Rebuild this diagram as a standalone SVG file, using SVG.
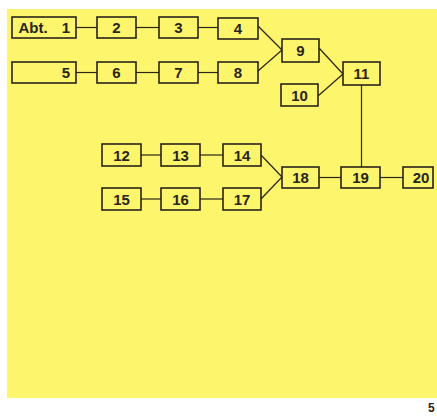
<svg xmlns="http://www.w3.org/2000/svg" width="437" height="417" viewBox="0 0 437 417">
<style>
.n rect{fill:none;stroke:#2a2419;stroke-width:1.6}
.n text{font-family:"Liberation Sans",Arial,sans-serif;font-weight:bold;font-size:15px;fill:#2a2419;text-anchor:middle}
#connectors line{stroke:#2a2419;stroke-width:1.2}
</style>
<rect x="0" y="0" width="437" height="417" fill="#ffffff"/>
<rect x="7" y="9" width="430" height="389" fill="#fdf56b"/>
<g id="connectors">
<line x1="76" y1="27.5" x2="97" y2="27.5"/>
<line x1="136" y1="27.5" x2="159" y2="27.5"/>
<line x1="198" y1="27.5" x2="218" y2="27.5"/>
<line x1="76" y1="72.5" x2="97" y2="72.5"/>
<line x1="136" y1="72.5" x2="159" y2="72.5"/>
<line x1="198" y1="72.5" x2="218" y2="72.5"/>
<line x1="258" y1="26" x2="282" y2="50"/>
<line x1="258" y1="71" x2="282" y2="50"/>
<line x1="319" y1="48" x2="343" y2="74"/>
<line x1="318" y1="96" x2="343" y2="74"/>
<line x1="361.5" y1="85" x2="361.5" y2="167"/>
<line x1="141" y1="155" x2="161" y2="155"/>
<line x1="200" y1="155" x2="223" y2="155"/>
<line x1="141" y1="199" x2="161" y2="199"/>
<line x1="200" y1="199" x2="223" y2="199"/>
<line x1="261" y1="155" x2="282" y2="177"/>
<line x1="261" y1="199" x2="282" y2="177"/>
<line x1="319" y1="177.5" x2="341" y2="177.5"/>
<line x1="380" y1="177.5" x2="403" y2="177.5"/>
</g>
<g id="n1" class="n"><rect x="12" y="17" width="64" height="21"/><text x="33" y="33">Abt.</text><text x="66" y="33">1</text></g>
<g id="n2" class="n"><rect x="97" y="17" width="39" height="21"/><text x="116.5" y="33">2</text></g>
<g id="n3" class="n"><rect x="159" y="17" width="39" height="21"/><text x="178.5" y="33">3</text></g>
<g id="n4" class="n"><rect x="218" y="18" width="40" height="21"/><text x="238" y="34">4</text></g>
<g id="n5" class="n"><rect x="12" y="62" width="64" height="21"/><text x="66" y="78">5</text></g>
<g id="n6" class="n"><rect x="97" y="62" width="39" height="21"/><text x="116.5" y="78">6</text></g>
<g id="n7" class="n"><rect x="159" y="62" width="39" height="21"/><text x="178.5" y="78">7</text></g>
<g id="n8" class="n"><rect x="218" y="62" width="40" height="21"/><text x="238" y="78">8</text></g>
<g id="n9" class="n"><rect x="282" y="39" width="37" height="23"/><text x="300.5" y="56">9</text></g>
<g id="n10" class="n"><rect x="281" y="84" width="37" height="22"/><text x="299.5" y="101">10</text></g>
<g id="n11" class="n"><rect x="343" y="62" width="37" height="23"/><text x="361.5" y="79">11</text></g>
<g id="n12" class="n"><rect x="102" y="144" width="39" height="22"/><text x="121.5" y="161">12</text></g>
<g id="n13" class="n"><rect x="161" y="144" width="39" height="22"/><text x="180.5" y="161">13</text></g>
<g id="n14" class="n"><rect x="223" y="144" width="38" height="22"/><text x="242" y="161">14</text></g>
<g id="n15" class="n"><rect x="102" y="188" width="39" height="22"/><text x="121.5" y="205">15</text></g>
<g id="n16" class="n"><rect x="161" y="188" width="39" height="22"/><text x="180.5" y="205">16</text></g>
<g id="n17" class="n"><rect x="223" y="188" width="38" height="22"/><text x="242" y="205">17</text></g>
<g id="n18" class="n"><rect x="282" y="167" width="37" height="21"/><text x="300.5" y="183">18</text></g>
<g id="n19" class="n"><rect x="341" y="167" width="39" height="21"/><text x="360.5" y="183">19</text></g>
<g id="n20" class="n"><rect x="403" y="167" width="30" height="21"/><text x="421" y="183">20</text></g>
<text x="428" y="412" font-family="'Liberation Sans',Arial,sans-serif" font-weight="bold" font-size="12" fill="#2a2419">5</text>
</svg>
